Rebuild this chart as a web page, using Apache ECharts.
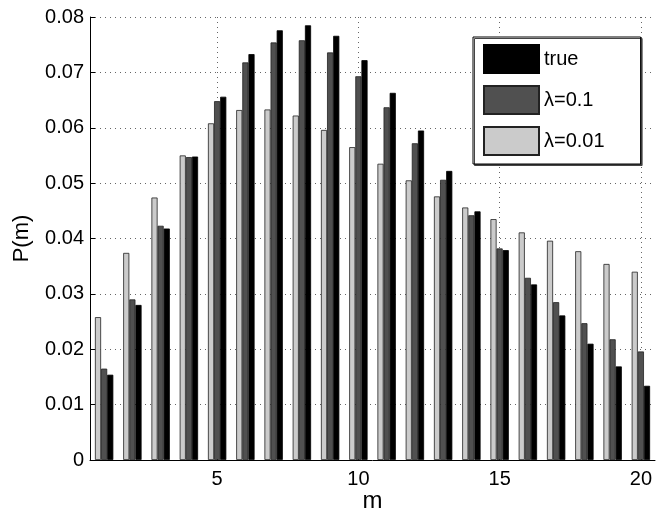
<!DOCTYPE html>
<html>
<head>
<meta charset="utf-8">
<script src="https://cdn.jsdelivr.net/npm/echarts@6/dist/echarts.min.js"></script>
<style>
html,body{margin:0;padding:0;background:#fff;}
#chart{width:665px;height:508px;}
</style>
</head>
<body>
<div id="chart"></div>
<script>
const categories = ['1','2','3','4','5','6','7','8','9','10','11','12','13','14','15','16','17','18','19','20'];
const lambda001 = [0.0258,0.0374,0.0474,0.0550,0.0608,0.0632,0.0633,0.0622,0.0596,0.0565,0.0535,0.0505,0.0476,0.0456,0.0435,0.0411,0.0396,0.0377,0.0354,0.0340];
const lambda01 = [0.0165,0.0290,0.0423,0.0547,0.0648,0.0718,0.0754,0.0758,0.0736,0.0693,0.0637,0.0572,0.0506,0.0442,0.0382,0.0329,0.0285,0.0247,0.0218,0.0196];
const trueP = [0.0154,0.0280,0.0418,0.0548,0.0656,0.0733,0.0776,0.0785,0.0766,0.0722,0.0663,0.0595,0.0522,0.0449,0.0379,0.0317,0.0261,0.0210,0.0169,0.0134];
const xTickLabels = ['5','10','15','20'];
const seriesNames = ['true','λ=0.1','λ=0.01'];

const FONT = "'Liberation Sans', Arial, Helvetica, sans-serif";
const showTick = (idx, val) => xTickLabels.indexOf(String(val)) >= 0;
const gridDots = {color: '#666', width: 1, type: [1, 4]};

const chart = echarts.init(document.getElementById('chart'), null, {renderer: 'canvas'});
const barCommon = {type: 'bar', barGap: '0%', barCategoryGap: '35%'};
chart.setOption({
  animation: false,
  backgroundColor: '#fff',
  textStyle: {fontFamily: FONT, color: '#000'},
  grid: {left: 90, right: 10, top: 17, bottom: 48, containLabel: false, outerBoundsMode: 'none'},
  legend: {
    data: seriesNames,
    orient: 'vertical',
    left: 473, top: 37,
    itemWidth: 55, itemHeight: 28, itemGap: 11,
    padding: [7, 36, 8, 10],
    borderColor: '#000', borderWidth: 1,
    backgroundColor: '#fff',
    shadowColor: '#444', shadowOffsetX: 1.5, shadowOffsetY: 1.5, shadowBlur: 0,
    icon: 'rect',
    textStyle: {fontSize: 20, fontFamily: FONT, color: '#000'}
  },
  xAxis: {
    type: 'category',
    data: categories,
    name: 'm',
    nameLocation: 'middle',
    nameGap: 29,
    nameMoveOverlap: false,
    nameTextStyle: {fontSize: 24, fontFamily: FONT, color: '#000'},
    axisLine: {show: true, lineStyle: {color: '#000', width: 1}},
    axisTick: {show: true, inside: true, alignWithLabel: true, interval: showTick, length: 5, lineStyle: {color: '#000'}},
    axisLabel: {interval: showTick, fontSize: 20, margin: 9, color: '#000', fontFamily: FONT},
    splitLine: {show: true, alignWithLabel: true, interval: showTick, lineStyle: gridDots}
  },
  yAxis: {
    type: 'value',
    min: 0, max: 0.08, interval: 0.01,
    name: 'P(m)',
    nameLocation: 'middle',
    nameRotate: 90,
    nameGap: 57,
    nameMoveOverlap: false,
    nameTextStyle: {fontSize: 22, fontFamily: FONT, color: '#000'},
    axisLine: {show: true, lineStyle: {color: '#000', width: 1}},
    axisTick: {show: true, inside: true, length: 5, lineStyle: {color: '#000'}},
    axisLabel: {fontSize: 20, margin: 6, color: '#000', fontFamily: FONT,
      formatter: v => v === 0 ? '0' : v.toFixed(2)},
    splitLine: {show: true, lineStyle: gridDots}
  },
  series: [
    Object.assign({name: 'λ=0.01', data: lambda001, itemStyle: {color: '#cbcbcb', borderColor: '#222', borderWidth: 0.8}}, barCommon),
    Object.assign({name: 'λ=0.1', data: lambda01, itemStyle: {color: '#505050', borderColor: '#222', borderWidth: 0.8}}, barCommon),
    Object.assign({name: 'true', data: trueP, itemStyle: {color: '#000000', borderColor: '#000', borderWidth: 0.8}}, barCommon)
  ]
});
</script>
</body>
</html>
